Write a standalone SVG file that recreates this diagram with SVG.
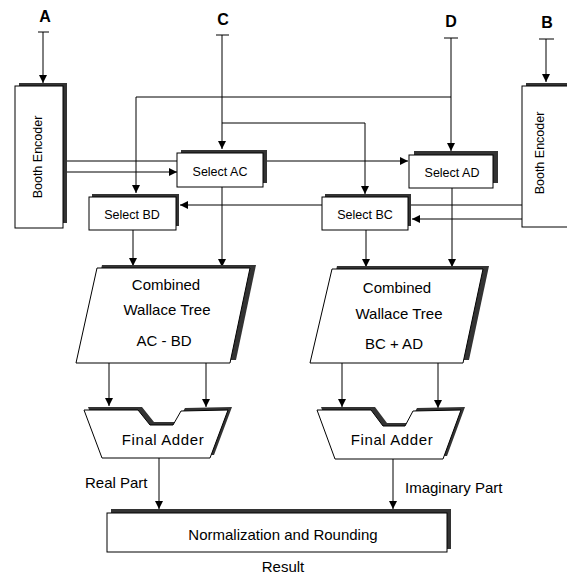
<svg xmlns="http://www.w3.org/2000/svg" width="567" height="575" viewBox="0 0 567 575">
<defs>
<marker id="ah" viewBox="0 0 10 10" refX="10" refY="5" markerWidth="9" markerHeight="8" markerUnits="userSpaceOnUse" orient="auto">
<path d="M0,0 L10,5 L0,10 Z" fill="#000"/>
</marker>
</defs>
<style>
.ln{fill:none;stroke:#000;stroke-width:1}
.arr{fill:none;stroke:#000;stroke-width:1;marker-end:url(#ah)}
.box{fill:#fff;stroke:#000;stroke-width:1}
.sh{fill:#333;stroke:none}
.t{font-family:"Liberation Sans",Arial,Helvetica,sans-serif;fill:#000;text-anchor:middle}
.sel{font-size:12.5px}
.big{font-size:15px}
.lab{font-size:16px;font-weight:bold}
.enc{font-size:12.5px}
</style>
<rect width="567" height="575" fill="#fff"/>

<g id="connectors">
<path class="ln" d="M38,32 H49"/>
<path class="arr" d="M43,32 V83"/>
<path class="ln" d="M216,35 H229"/>
<path class="arr" d="M222,35 V149"/>
<path class="ln" d="M444,38 H458"/>
<path class="arr" d="M451,38 V151"/>
<path class="ln" d="M539,39 H554"/>
<path class="arr" d="M546,39 V82"/>
<path class="arr" d="M451,97 H136 V193"/>
<path class="arr" d="M222,123 H365 V194"/>
<path class="arr" d="M63,161 H408"/>
<path class="arr" d="M63,172 H177"/>
<path class="arr" d="M522,205 H180"/>
<path class="arr" d="M522,219 H412"/>
<path class="arr" d="M222,187 V267"/>
<path class="arr" d="M133,230 V266"/>
<path class="arr" d="M366,230 V267"/>
<path class="arr" d="M452,188 V267"/>
<path class="arr" d="M109,363 V406"/>
<path class="arr" d="M206,363 V407"/>
<path class="arr" d="M342,363 V407"/>
<path class="arr" d="M438,363 V408"/>
<path class="arr" d="M159,458 V509"/>
<path class="arr" d="M393,459 V509"/>
</g>

<g id="label-A"><text class="t lab" x="45" y="22">A</text></g>
<g id="label-C"><text class="t lab" x="223" y="25">C</text></g>
<g id="label-D"><text class="t lab" x="451" y="27">D</text></g>
<g id="label-B"><text class="t lab" x="547" y="28">B</text></g>

<g id="booth-encoder-left">
<rect class="sh" x="19" y="83" width="48" height="140"/>
<rect class="box" x="15" y="86" width="48" height="142"/>
<text class="t enc" transform="translate(42,157) rotate(-90)">Booth Encoder</text>
</g>

<g id="booth-encoder-right">
<rect class="sh" x="526" y="83" width="60" height="141"/>
<rect class="box" x="522" y="86" width="60" height="141"/>
<text class="t enc" transform="translate(544,153) rotate(-90)">Booth Encoder</text>
</g>

<g id="select-ac">
<rect class="sh" x="181" y="150" width="86" height="33"/>
<rect class="box" x="177" y="153" width="86" height="34"/>
<text class="t sel" x="220" y="176">Select AC</text>
</g>

<g id="select-bd">
<rect class="sh" x="92" y="194" width="87" height="32"/>
<rect class="box" x="89" y="197" width="87" height="33"/>
<text class="t sel" x="132" y="219">Select BD</text>
</g>

<g id="select-ad">
<rect class="sh" x="414" y="151" width="84" height="32"/>
<rect class="box" x="409" y="155" width="84" height="33"/>
<text class="t sel" x="452" y="177">Select AD</text>
</g>

<g id="select-bc">
<rect class="sh" x="325" y="194" width="86" height="32"/>
<rect class="box" x="322" y="197" width="86" height="33"/>
<text class="t sel" x="365" y="219">Select BC</text>
</g>

<g id="wallace-left">
<polygon class="sh" points="102,265 256,265 236,360 81,360"/>
<polygon class="box" points="97,268 250,268 230,363 76,363"/>
<text class="t big" x="166" y="290">Combined</text>
<text class="t big" x="167" y="315">Wallace Tree</text>
<text class="t big" x="164" y="346">AC - BD</text>
</g>

<g id="wallace-right">
<polygon class="sh" points="337,266 489,266 469,360 315,360"/>
<polygon class="box" points="332,269 483,269 463,363 310,363"/>
<text class="t big" x="397" y="293">Combined</text>
<text class="t big" x="399" y="319">Wallace Tree</text>
<text class="t big" x="394" y="349">BC + AD</text>
</g>

<g id="final-adder-left">
<polygon class="sh" points="88,407 142,407 154,422 177,422 185,408 232,407 214,455 106,455"/>
<polygon class="box" points="84,410 138,410 150,425 173,425 181,411 228,410 210,458 102,458"/>
<text class="t big" x="163" y="445" letter-spacing="0.6">Final Adder</text>
</g>

<g id="final-adder-right">
<polygon class="sh" points="321,407 375,407 387,423 409,423 417,408 465,407 447,456 339,456"/>
<polygon class="box" points="317,410 371,410 383,426 405,426 413,411 461,410 443,459 335,459"/>
<text class="t big" x="392" y="445" letter-spacing="0.6">Final Adder</text>
</g>

<g id="normalization">
<rect class="sh" x="111" y="509" width="340" height="40"/>
<rect class="box" x="107" y="513" width="340" height="39"/>
<text class="t big" x="283" y="540">Normalization and Rounding</text>
</g>

<g id="texts">
<text class="t big" x="85" y="488" text-anchor="start" style="text-anchor:start">Real Part</text>
<text class="t big" x="405" y="493" style="text-anchor:start">Imaginary Part</text>
<text class="t big" x="283" y="572">Result</text>
</g>
</svg>
